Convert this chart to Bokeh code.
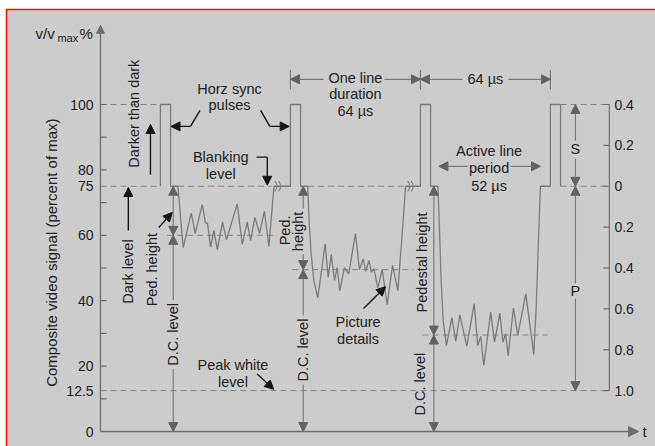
import math
from bokeh.plotting import figure
from bokeh.models import Range1d, Arrow, NormalHead
from bokeh.core.properties import value
from bokeh.embed import file_html
from bokeh.resources import INLINE

# ---------------- data (time in microseconds, signal in percent of max) ----------------
SYNC_TIP = 100.0
BLANKING = 75.0
PEAK_WHITE = 12.5
sync_start = [29.5, 93.5, 157.5, 221.5]
sync_width = 5.0

seg1_t = [38.1, 40.7, 44.7, 46.6, 50.1, 51.7, 52.7, 54.2, 55.8, 57.5, 60.1, 62.0,
          67.3, 69.8, 72.2, 73.9, 76.0, 78.3, 80.7, 82.9, 85.4]
seg1_v = [75.0, 56.2, 66.8, 60.6, 69.4, 63.7, 63.7, 56.4, 61.5, 55.6, 64.0, 58.6,
          69.6, 57.2, 64.0, 58.4, 65.5, 60.6, 67.4, 56.6, 75.0]

seg2_t = [102.0, 102.7, 103.7, 105.0, 107.0, 110.6, 112.1, 113.6, 115.2, 116.5, 117.8,
          120.1, 122.2, 125.5, 127.5, 129.3, 130.6, 132.1, 133.4, 134.6, 136.5, 138.7,
          141.1, 143.8, 146.4, 149.0, 150.2]
seg2_v = [75.0, 64.5, 54.3, 46.2, 40.9, 57.4, 47.2, 54.1, 46.2, 50.1, 43.1,
          50.1, 48.2, 60.5, 49.5, 52.8, 49.0, 52.3, 48.7, 49.8, 43.9, 49.5,
          38.8, 50.8, 43.1, 64.5, 75.0]

seg3_t = [166.1, 166.9, 167.7, 168.7, 170.3, 173.0, 174.9, 176.9, 180.3, 184.0, 185.7,
          187.2, 188.7, 192.1, 194.0, 196.6, 198.1, 199.4, 200.7, 203.3, 205.4, 209.4,
          213.3, 214.5, 215.5, 216.3, 216.6]
seg3_v = [75.0, 61.5, 46.2, 33.9, 26.3, 34.8, 27.6, 35.7, 26.1, 39.1, 26.3,
          29.1, 20.2, 36.5, 27.3, 36.2, 27.3, 29.9, 23.2, 37.8, 29.4, 42.1,
          23.6, 38.0, 56.4, 70.6, 75.0]

dc_level = [60.0, 49.5, 29.5]

left_minor_ticks = [10, 20, 30, 40, 50, 60, 70, 80, 90, 100]
left_tick_values = [100, 80, 75, 60, 40, 20, 12.5, 0]
left_tick_labels = ["100", "80", "75", "60", "40", "20", "12.5", "0"]
right_scale = [0.4, 0.2, 0.0, -0.2, -0.4, -0.6, -0.8, -1.0]
right_tick_labels = ["0.4", "0.2", "0", "0.2", "0.4", "0.6", "0.8", "1.0"]

# ---------------- layout constants ----------------
PX_US = 2.03125
PX_PCT = 3.27
X_RANGE = ((7 - 100) / PX_US, (655 - 100) / PX_US)
Y_RANGE = ((431 - 446) / PX_PCT, (431 - 10) / PX_PCT)
TICK = 6 / PX_US
RIGHT_X = 250.5

BG = "#cccccc"
GRAY = "#7a7a7a"
HEAD_GRAY = "#626262"
DASH = "#858585"
BLACK = "#141414"
TXT = "#222222"
FONT = value("Liberation Sans")

p = figure(width=650, height=438,
           x_range=Range1d(*X_RANGE), y_range=Range1d(*Y_RANGE),
           x_axis_type=None, y_axis_type=None,
           toolbar_location=None, output_backend="svg",
           min_border_left=2, min_border_top=2, min_border_right=0, min_border_bottom=0,
           background_fill_color=BG, border_fill_color="#ff0000",
           outline_line_color=None)
p.margin = (8, 0, 0, 5)

# ---------------- dashed reference levels ----------------
ss = sync_start
se = [s + sync_width for s in sync_start]
dash_x0 = [0, se[3], 0, 38.2, 102.2, se[3], 32.8, 94.4, 158.5, 0]
dash_x1 = [ss[0], RIGHT_X, ss[0], 84.0, 149.2, RIGHT_X, 86.2, 154.1, 220.1, RIGHT_X]
dash_y = [SYNC_TIP, SYNC_TIP, BLANKING, BLANKING, BLANKING, BLANKING,
          dc_level[0], dc_level[1], dc_level[2], PEAK_WHITE]
p.segment(x0=dash_x0, y0=dash_y, x1=dash_x1, y1=dash_y,
          line_color=DASH, line_width=1, line_dash="6 4")

# ---------------- waveform ----------------
segs = [(seg1_t, seg1_v), (seg2_t, seg2_v), (seg3_t, seg3_v)]
wt, wv = [], []
for k, t0 in enumerate(sync_start):
    wt += [t0, t0, t0 + sync_width, t0 + sync_width]
    wv += [BLANKING, SYNC_TIP, SYNC_TIP, BLANKING]
    if k < len(segs):
        wt += segs[k][0]
        wv += segs[k][1]
p.line(wt, wv, line_color=GRAY, line_width=1.3)

# break marks
p.arc(x=[83.4, 85.2, 148.8, 150.5], y=[BLANKING] * 4, radius=3.45,
      start_angle=-0.8, end_angle=0.8, line_color=GRAY, line_width=1.1)

# ---------------- axes ----------------
def head(size, color):
    return NormalHead(size=size, fill_color=color, line_color=color, line_width=1)

def arrow(x0, y0, x1, y1, color=GRAY, hcolor=HEAD_GRAY, size=9, both=False, lw=1.2):
    p.add_layout(Arrow(x_start=x0, y_start=y0, x_end=x1, y_end=y1,
                       line_color=color, line_width=lw,
                       end=head(size, hcolor),
                       start=head(size, hcolor) if both else None))

arrow(0, 0, 0, 124.2, color="#6e6e6e", hcolor="#6e6e6e", size=8, lw=1.3)
arrow(0, 0, 264.9, 0, color="#6e6e6e", hcolor="#6e6e6e", size=10, lw=1.3)

p.segment(x0=[0] * len(left_minor_ticks), y0=left_minor_ticks,
          x1=[TICK] * len(left_minor_ticks), y1=left_minor_ticks,
          line_color="#6e6e6e", line_width=1.2)
p.text(x=[-3.4] * len(left_tick_values), y=left_tick_values, text=left_tick_labels,
       text_align="right", text_baseline="middle", text_font=FONT,
       text_font_size="14px", text_color=TXT)

right_pos = [BLANKING + r * (BLANKING - PEAK_WHITE) for r in right_scale]
p.segment(x0=[RIGHT_X], y0=[PEAK_WHITE], x1=[RIGHT_X], y1=[SYNC_TIP],
          line_color="#6e6e6e", line_width=1.2)
p.segment(x0=[RIGHT_X - TICK] * len(right_pos), y0=right_pos,
          x1=[RIGHT_X] * len(right_pos), y1=right_pos,
          line_color="#6e6e6e", line_width=1.2)
p.text(x=[RIGHT_X + 2.5] * len(right_pos), y=right_pos, text=right_tick_labels,
       text_align="left", text_baseline="middle", text_font=FONT,
       text_font_size="14px", text_color=TXT)

# axis titles
p.text(x=[-32.0], y=[121.7], text=["v/v"], text_align="left", text_baseline="alphabetic",
       text_font=FONT, text_font_size="15px", text_color=TXT)
p.text(x=[-21.2], y=[120.3], text=["max"], text_align="left", text_baseline="alphabetic",
       text_font=FONT, text_font_size="11px", text_color=TXT)
p.text(x=[-10.3], y=[121.7], text=["%"], text_align="left", text_baseline="alphabetic",
       text_font=FONT, text_font_size="15px", text_color=TXT)
p.text(x=[266.8], y=[0], text=["t"], text_align="left", text_baseline="middle",
       text_font=FONT, text_font_size="15px", text_color=TXT)
p.text(x=[-23.9], y=[54.7], text=["Composite video signal (percent of max)"],
       angle=math.pi / 2, text_align="center", text_baseline="middle",
       text_font=FONT, text_font_size="15px", text_color=TXT)

# ---------------- dimension arrows (gray) ----------------
ax = [35.8, 99.8, 164.1]
# first pulse: pedestal + D.C.
arrow(ax[0], dc_level[0], ax[0], BLANKING, both=True)
arrow(ax[0], 40.25, ax[0], dc_level[0])
arrow(ax[0], 19.15, ax[0], 0)
# second pulse
arrow(ax[1], 68.2, ax[1], BLANKING)
arrow(ax[1], 54.2, ax[1], dc_level[1])
arrow(ax[1], 35.45, ax[1], dc_level[1])
arrow(ax[1], 14.35, ax[1], 0)
# third pulse
arrow(ax[2], dc_level[2], ax[2], BLANKING, both=True)
arrow(ax[2], dc_level[2], ax[2], 0, both=True)
# S and P
sx = 233.8
arrow(sx, 89.0, sx, SYNC_TIP)
arrow(sx, 83.4, sx, BLANKING)
arrow(sx, 45.3, sx, BLANKING)
arrow(sx, 40.7, sx, PEAK_WHITE)
# line duration dimensions
dim_y = 107.7
p.segment(x0=ss[1:], y0=[104.6] * 3, x1=ss[1:], y1=[110.5] * 3,
          line_color=GRAY, line_width=1.2)
arrow(109.8, dim_y, ss[1], dim_y)
arrow(139.8, dim_y, ss[2], dim_y)
arrow(178.2, dim_y, ss[2], dim_y)
arrow(200.9, dim_y, ss[3], dim_y)
# active line period
arrow(180.7, 81.1, 166.6, 81.1)
arrow(201.8, 81.1, 216.6, 81.1)

# ---------------- pointer arrows (black) ----------------
def pointer(x0, y0, x1, y1):
    arrow(x0, y0, x1, y1, color=BLACK, hcolor=BLACK, size=9, lw=1.4)

pointer(24.6, 78.5, 24.6, 93.9)      # darker than dark
pointer(13.7, 61.5, 13.7, 74.6)      # dark level
pointer(28.7, 62.4, 35.3, 67.0)      # ped. height
p.line([49.0, 44.3], [98.2, 93.3], line_color=BLACK, line_width=1.4)
pointer(44.3, 93.3, 34.7, 93.3)      # horz sync left
p.line([78.8, 83.4], [98.2, 93.3], line_color=BLACK, line_width=1.4)
pointer(83.4, 93.3, 92.9, 93.3)      # horz sync right
p.line([76.8, 82.1], [83.9, 83.9], line_color=BLACK, line_width=1.4)
pointer(82.1, 83.9, 82.1, 75.3)      # blanking level
pointer(129.5, 37.6, 140.3, 44.3)    # picture details
pointer(77.1, 17.6, 85.3, 12.9)      # peak white

# ---------------- annotation texts ----------------
ann_x = [63.5, 63.5, 59.2, 59.2, 125.5, 125.5, 125.5, 189.5, 191.3, 191.3, 191.3,
         126.8, 126.8, 65.2, 65.2, sx, sx]
ann_y = [104.7, 99.9, 83.8, 78.6, 108.1, 103.1, 97.9, 107.8, 85.9, 80.7, 75.2,
         33.5, 28.4, 20.3, 15.0, 86.5, 43.1]
ann_text = ["Horz sync", "pulses", "Blanking", "level", "One line", "duration", "64 \u00b5s",
            "64 \u00b5s", "Active line", "period", "52 \u00b5s", "Picture", "details",
            "Peak white", "level", "S", "P"]
p.text(x=ann_x, y=ann_y, text=ann_text, text_align="center", text_baseline="middle",
       text_font=FONT, text_font_size="14.5px", text_color=TXT)

rot_x = [16.7, 13.6, 25.5, ax[0], 90.6, 97.1, ax[1], 158.5, 157.5]
rot_y = [97.2, 48.9, 49.5, 29.7, 61.5, 61.2, 24.9, 51.7, 14.5]
rot_text = ["Darker than dark", "Dark level", "Ped. height", "D.C. level", "Ped.",
            "height", "D.C. level", "Pedestal height", "D.C. level"]
p.text(x=rot_x, y=rot_y, text=rot_text, angle=math.pi / 2, text_align="center",
       text_baseline="middle", text_font=FONT, text_font_size="14.5px", text_color=TXT)

open("out.html", "w").write(file_html(p, INLINE))
